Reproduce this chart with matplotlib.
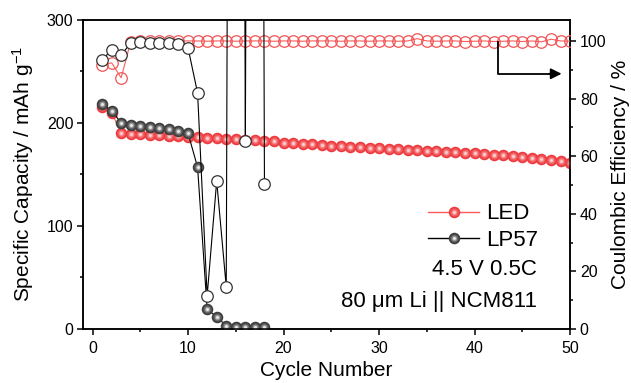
import matplotlib
matplotlib.use('Agg')
import matplotlib.pyplot as plt
from matplotlib.ticker import MultipleLocator
from matplotlib.lines import Line2D
from matplotlib.legend_handler import HandlerTuple

plt.rcParams['font.family'] = ['Liberation Sans', 'DejaVu Sans']
plt.rcParams['mathtext.default'] = 'regular'

# 数据
cycles_led = list(range(1, 51))
cap_led = [215, 210, 190, 189, 189, 188, 188, 187, 187, 186,
           186, 185, 185, 184, 184, 183, 183, 182, 182, 181,
           181, 180, 180, 179, 178, 178, 177, 177, 176, 176,
           175, 175, 174, 174, 173, 173, 172, 172, 171, 171,
           170, 169, 169, 168, 167, 166, 165, 164, 163, 161]
ce_led = [91.7, 92.4, 87.2, 99.8, 100.0, 100.0, 100.0, 99.9, 100.0, 100.0,
          100.0, 99.9, 100.0, 100.0, 99.9, 100.0, 100.0, 100.0, 99.9, 100.0,
          100.0, 99.9, 100.0, 100.0, 100.0, 99.9, 100.0, 100.0, 99.9, 100.0,
          100.0, 99.9, 100.0, 100.8, 100.0, 99.9, 100.0, 100.0, 99.8, 99.9,
          100.0, 99.8, 99.9, 100.0, 99.8, 100.0, 99.7, 100.6, 100.0, 99.9]

cycles_lp = list(range(1, 19))
cap_lp = [218, 212, 200, 198, 197, 196, 195, 194, 192, 190,
          157, 19, 12, 3, 2, 2, 2, 2]
ce_lp = [93.4, 96.9, 95.1, 99.3, 99.5, 99.4, 99.4, 99.3, 98.9, 97.6,
         81.9, 11.5, 51.4, 14.6, 1000, 65.3, 1000, 50.3]

red = '#ee3a3e'
red_line = '#ff5a5a'
gray = '#3d3d3d'
red_shades = [red, '#f15a5d', '#f58a8c', '#fbd0d0']
gray_shades = [gray, '#5e5e5e', '#9a9a9a', '#e8e8e8']
sizes = [1.0, 0.72, 0.48, 0.26]

fig = plt.figure(figsize=(6.31, 3.83), dpi=100)
ax = fig.add_axes([0.1315, 0.141, 0.772, 0.807])
ax2 = ax.twinx()

ms = 8.3


def sphere(axis, x, y, shades, lc, lw=0.8, z=3):
    axis.plot(x, y, '-', color=lc, lw=lw, zorder=z)
    for c, s in zip(shades, sizes):
        axis.plot(x, y, 'o', ls='none', ms=ms * s, mfc=c, mec='none', zorder=z)


# 容量
sphere(ax, cycles_led, cap_led, red_shades, red_line)
sphere(ax, cycles_lp, cap_lp, gray_shades, 'black', z=4)

# 库伦效率
ax2.plot(cycles_led, ce_led, '-', color=red_line, lw=0.8, zorder=3)
ax2.plot(cycles_led, ce_led, 'o', ls='none', ms=ms, mfc='none', mec='#f05555',
         mew=0.9, zorder=3)
ax2.plot(cycles_lp, ce_lp, '-', color='black', lw=0.8, zorder=4)
ax2.plot(cycles_lp, ce_lp, 'o', ls='none', ms=ms, mfc='white', mec='#333333',
         mew=0.9, zorder=4)

ax.set_xlim(-1, 50)
ax.set_ylim(0, 300)
ax2.set_ylim(0, 107.3)

ax.xaxis.set_major_locator(MultipleLocator(10))
ax.xaxis.set_minor_locator(MultipleLocator(5))
ax.yaxis.set_major_locator(MultipleLocator(100))
ax.yaxis.set_minor_locator(MultipleLocator(50))
ax2.yaxis.set_major_locator(MultipleLocator(20))
ax2.yaxis.set_minor_locator(MultipleLocator(10))

for a in (ax, ax2):
    for s in a.spines.values():
        s.set_linewidth(1.1)
    a.tick_params(which='major', direction='out', length=4, width=1.1,
                  labelsize=11.5, pad=3)
    a.tick_params(which='minor', direction='out', length=2.5, width=1.1)
ax.tick_params(axis='x', pad=5)
ax.tick_params(top=False, which='both')

ax.set_xlabel('Cycle Number', fontsize=15, labelpad=3)
ax.set_ylabel('Specific Capacity / mAh g$^{-1}$', fontsize=15, labelpad=8)
ax2.set_ylabel('Coulombic Efficiency / %', fontsize=15, labelpad=3)

# 箭头
ax2.plot([42.5, 42.5, 48.0], [99.6, 88.6, 88.6], color='black', lw=1.3, zorder=5)
ax2.annotate('', xy=(49.4, 88.6), xytext=(47.5, 88.6),
             arrowprops=dict(arrowstyle='-|>', color='black', lw=1.3,
                             mutation_scale=16), zorder=5)


# 图例
def handle(shades, lc):
    hl = [Line2D([], [], color=lc, lw=1.0)]
    for c, s in zip(shades, sizes):
        hl.append(Line2D([], [], ls='none', marker='o', ms=ms * s, mfc=c, mec='none'))
    return tuple(hl)


hs = [handle(red_shades, red_line), handle(gray_shades, 'black')]
leg = ax2.legend(hs, ['LED', 'LP57'], handler_map={tuple: HandlerTuple(ndivide=1)},
                 loc='upper left', bbox_to_anchor=(0.69, 0.435), frameon=False,
                 fontsize=16, handlelength=2.3, handletextpad=0.3,
                 labelspacing=0.25, borderaxespad=0)
leg.set_zorder(10)

ax2.text(0.932, 0.175, '4.5 V 0.5C', transform=ax2.transAxes, ha='right',
         va='baseline', fontsize=16)
ax2.text(0.932, 0.071, '80 μm Li || NCM811', transform=ax2.transAxes, ha='right',
         va='baseline', fontsize=16)

fig.savefig('out.png', dpi=100)
